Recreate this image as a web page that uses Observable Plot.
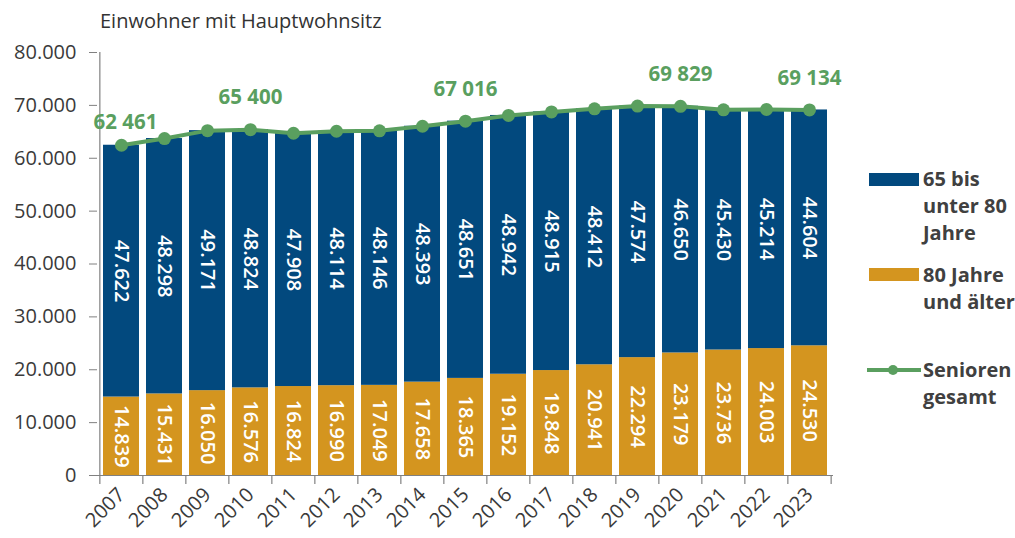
<!DOCTYPE html>
<html>
<head>
<meta charset="utf-8">
<script src="https://cdn.jsdelivr.net/npm/d3@7"></script>
<script src="https://cdn.jsdelivr.net/npm/@observablehq/plot@0.6"></script>
<style>
  body { margin: 0; background: #fff; }
  #wrap { position: relative; width: 1015px; height: 538px; font-family: "Open Sans", sans-serif; overflow: hidden; }
  #chart { position: absolute; left: 0; top: 0; }
  .title { position: absolute; left: 100px; top: 7px; font-size: 20px; color: #333; line-height: normal; white-space: nowrap; }
  .leg { position: absolute; left: 923px; font-size: 20px; font-weight: 700; line-height: 27px; color: #404040; white-space: nowrap; }
  .sw { position: absolute; left: 869px; width: 50px; height: 13px; }
</style>
</head>
<body>
<div id="wrap">
  <div id="chart"></div>
  <div class="title">Einwohner mit Hauptwohnsitz</div>
  <div id="legend"></div>
</div>
<script>
// ---- data ----
const years = [2007, 2008, 2009, 2010, 2011, 2012, 2013, 2014, 2015, 2016, 2017, 2018, 2019, 2020, 2021, 2022, 2023];
const age80plus = [14839, 15431, 16050, 16576, 16824, 16990, 17049, 17658, 18365, 19152, 19848, 20941, 22294, 23179, 23736, 24003, 24530];
const age65to80 = [47622, 48298, 49171, 48824, 47908, 48114, 48146, 48393, 48651, 48942, 48915, 48412, 47574, 46650, 45430, 45214, 44604];
const labelYears = [2007, 2010, 2015, 2020, 2023];
const yTicks = [0, 10000, 20000, 30000, 40000, 50000, 60000, 70000, 80000];
const seriesNames = ["80 Jahre und älter", "65 bis unter 80 Jahre"];
const legendLabels = ["65 bis<br>unter 80<br>Jahre", "80 Jahre<br>und älter", "Senioren<br>gesamt"];
const colors = { "80 Jahre und älter": "#d4951f", "65 bis unter 80 Jahre": "#02497e", total: "#5a9f5f" };

// ---- derived tables ----
const rows = [];
seriesNames.forEach((s, si) => {
  const vals = si === 0 ? age80plus : age65to80;
  years.forEach((y, i) => rows.push({ year: y, series: s, value: vals[i] }));
});
const totals = years.map((y, i) => ({ year: y, total: age80plus[i] + age65to80[i] }));
const labeled = totals.filter(d => labelYears.includes(d.year));

const deFmt = d3.formatLocale({ decimal: ",", thousands: ".", grouping: [3], currency: ["", "€"] }).format(",.0f");
const spFmt = d3.formatLocale({ decimal: ",", thousands: " ", grouping: [3], currency: ["", "€"] }).format(",.0f");

const W = 1015, H = 538;
const mL = 97, mR = 182, mT = 52, mB = 63;
const pInner = 0.16;
const step = (W - mL - mR) / years.length;
const axisGray = "#808080";
const txt = "#3a3a3a";
const font = "Open Sans, sans-serif";

const chart = Plot.plot({
  width: W,
  height: H,
  marginLeft: mL,
  marginRight: mR,
  marginTop: mT,
  marginBottom: mB,
  style: { fontFamily: font, background: "transparent" },
  x: { type: "band", domain: years, paddingInner: pInner, paddingOuter: pInner / 2, label: null },
  y: { domain: [0, 80000], label: null },
  color: { domain: seriesNames, range: seriesNames.map(s => colors[s]) },
  marks: [
    Plot.barY(rows, Plot.stackY({ x: "year", y: "value", fill: "series" })),
    Plot.text(rows, Plot.stackY({
      x: "year", y: "value", text: d => deFmt(d.value), rotate: 90,
      fill: "white", fontSize: 20, fontWeight: 600, fontFamily: font
    })),
    // axis lines
    Plot.ruleY([0], { stroke: axisGray, strokeWidth: 1.2 }),
    Plot.ruleX([years[0]], { x: d => d, y1: 0, y2: 80000, dx: -step / 2, stroke: axisGray, strokeWidth: 1.2 }),
    // category boundary ticks
    Plot.ruleX(years, { x: d => d, y1: 0, y2: 0, insetTop: 9, dx: -step / 2, stroke: axisGray, strokeWidth: 1.2 }),
    Plot.ruleX([years[years.length - 1]], { x: d => d, y1: 0, y2: 0, insetTop: 9, dx: step / 2, stroke: axisGray, strokeWidth: 1.2 }),
    Plot.axisY({ ticks: yTicks, tickSize: 8, tickPadding: 13, tickFormat: deFmt, fontSize: 20, fill: txt, stroke: axisGray, label: null }),
    Plot.axisX({ tickSize: 0, tickPadding: 16, tickRotate: -45, tickFormat: d => String(d), fontSize: 20, fill: txt, label: null }),
    // totals line
    Plot.line(totals, { x: "year", y: "total", stroke: colors.total, strokeWidth: 4 }),
    Plot.dot(totals, { x: "year", y: "total", r: 6.5, fill: colors.total }),
    Plot.text(labeled.filter(d => d.year === years[0]), {
      x: "year", y: "total", text: d => spFmt(d.total), dy: -23, dx: 4,
      fill: colors.total, fontSize: 20.5, fontWeight: 700, fontFamily: font
    }),
    Plot.text(labeled.filter(d => d.year !== years[0]), {
      x: "year", y: "total", text: d => spFmt(d.total), dy: -32,
      fill: colors.total, fontSize: 20.5, fontWeight: 700, fontFamily: font
    })
  ]
});
document.getElementById("chart").appendChild(chart);

// ---- legend ----
const leg = document.getElementById("legend");
leg.innerHTML = `
  <div class="sw" style="top:173px;background:${colors["65 bis unter 80 Jahre"]}"></div>
  <div class="leg" style="top:165px">${legendLabels[0]}</div>
  <div class="sw" style="top:268px;background:${colors["80 Jahre und älter"]}"></div>
  <div class="leg" style="top:261px">${legendLabels[1]}</div>
  <svg style="position:absolute;left:865px;top:362px" width="58" height="16">
    <line x1="2" y1="8" x2="56" y2="8" stroke="${colors.total}" stroke-width="4"/>
    <circle cx="28" cy="8" r="5" fill="${colors.total}"/>
  </svg>
  <div class="leg" style="top:356px">${legendLabels[2]}</div>
`;
</script>
</body>
</html>
